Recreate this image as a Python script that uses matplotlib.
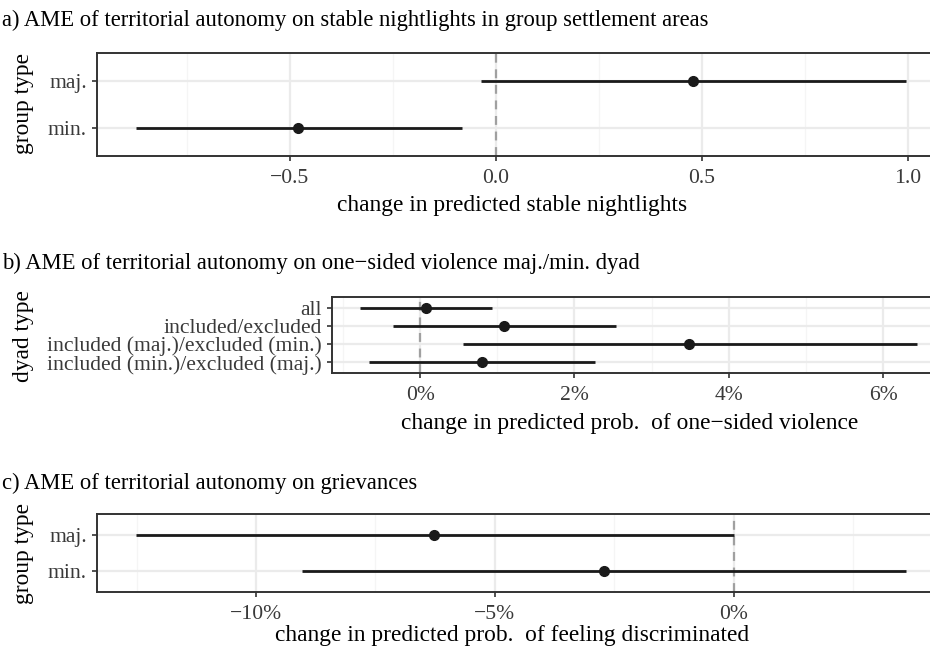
import matplotlib
matplotlib.use("Agg")
import matplotlib.pyplot as plt
from matplotlib.ticker import FixedLocator, FuncFormatter

plt.rcParams['font.family'] = ['Liberation Serif', 'DejaVu Serif']

# Panel a data
a_groups = ["maj.", "min."]
a_est = [0.478, -0.48]
a_lo = [-0.037, -0.875]
a_hi = [0.996, -0.082]

# Panel b data (percent)
b_groups = ["all", "included/excluded", "included (maj.)/excluded (min.)", "included (min.)/excluded (maj.)"]
b_est = [0.08, 1.09, 3.48, 0.80]
b_lo = [-0.78, -0.35, 0.55, -0.66]
b_hi = [0.93, 2.54, 6.44, 2.27]

# Panel c data (percent)
c_groups = ["maj.", "min."]
c_est = [-6.28, -2.72]
c_lo = [-12.52, -9.04]
c_hi = [0.0, 3.62]

W, H = 930, 651
fig = plt.figure(figsize=(W/100, H/100), dpi=100)

def ax_px(left, right, top, bottom):
    return fig.add_axes([left/W, 1-bottom/H, (right-left)/W, (bottom-top)/H])

GRID_MAJ = '#ebebeb'
GRID_MIN = '#f5f5f5'
TICKC = '#3a3a3a'
TICKFS = 15.6

def style(ax, groups, est, lo, hi, major, minor, fmt):
    n = len(groups)
    ys = list(range(n, 0, -1))  # first group on top
    lo_all, hi_all = min(lo), max(hi)
    ext = 0.05 * (hi_all - lo_all)
    ax.set_xlim(lo_all - ext, hi_all + ext)
    ax.set_ylim(0.4, n + 0.6)
    for m in minor:
        ax.axvline(m, color=GRID_MIN, lw=0.9, zorder=0)
    for m in major:
        ax.axvline(m, color=GRID_MAJ, lw=1.6, zorder=0)
    for y in ys:
        ax.axhline(y, color=GRID_MAJ, lw=1.6, zorder=0)
    ax.axvline(0, color='#a0a0a0', lw=1.6, ls=(0, (4, 3)), zorder=1)
    ax.hlines(ys, lo, hi, color='#1a1a1a', lw=2.0, zorder=2)
    ax.plot(est, ys, 'o', color='#1a1a1a', ms=7, zorder=3)
    ax.set_yticks(ys)
    ax.set_yticklabels(groups)
    ax.xaxis.set_major_locator(FixedLocator(major))
    ax.xaxis.set_major_formatter(FuncFormatter(fmt))
    ax.tick_params(axis='both', colors='#333333', labelcolor=TICKC,
                   labelsize=TICKFS, length=3.8, width=1.2, pad=3.5)
    ax.tick_params(axis='x', pad=5.5)
    for s in ax.spines.values():
        s.set_color('#333333')
        s.set_linewidth(1.4)
    ax.set_facecolor('white')

def fmt_a(v, p):
    return f"{v:.1f}".replace('-', '\u2212')

def fmt_pct(v, p):
    return f"{v:.0f}%".replace('-', '\u2212')

# Panel a
axa = ax_px(97, 945, 53, 156)
style(axa, a_groups, a_est, a_lo, a_hi,
      [-0.5, 0.0, 0.5, 1.0], [-0.75, -0.25, 0.25, 0.75], fmt_a)

# Panel b
axb = ax_px(332, 945, 297, 373)
style(axb, b_groups, b_est, b_lo, b_hi,
      [0, 2, 4, 6], [-1, 1, 3, 5], fmt_pct)

# Panel c
axc = ax_px(97, 945, 514, 592)
style(axc, c_groups, c_est, c_lo, c_hi,
      [-10, -5, 0], [-12.5, -7.5, -2.5, 2.5], fmt_pct)

TS = 16.3
LS = 16.8
fig.text(2/W, 1-20/H, "a) AME of territorial autonomy on stable nightlights in group settlement areas",
         fontsize=TS, va='center', ha='left')
fig.text(2/W, 1-263/H, "b) AME of territorial autonomy on one\u2212sided violence maj./min. dyad",
         fontsize=TS, va='center', ha='left')
fig.text(2/W, 1-483/H, "c) AME of territorial autonomy on grievances",
         fontsize=TS, va='center', ha='left')

fig.text(512/W, 1-206/H, "change in predicted stable nightlights", fontsize=LS, ha='center', va='center')
fig.text(630/W, 1-424/H, "change in predicted prob.  of one\u2212sided violence", fontsize=LS, ha='center', va='center')
fig.text(512/W, 1-636/H, "change in predicted prob.  of feeling discriminated", fontsize=LS, ha='center', va='center')

fig.text(24/W, 1-104/H, "group type", fontsize=LS, rotation=90, ha='center', va='center')
fig.text(23/W, 1-336/H, "dyad type", fontsize=LS, rotation=90, ha='center', va='center')
fig.text(24/W, 1-553/H, "group type", fontsize=LS, rotation=90, ha='center', va='center')

fig.savefig("out.png", dpi=100, facecolor='white')
